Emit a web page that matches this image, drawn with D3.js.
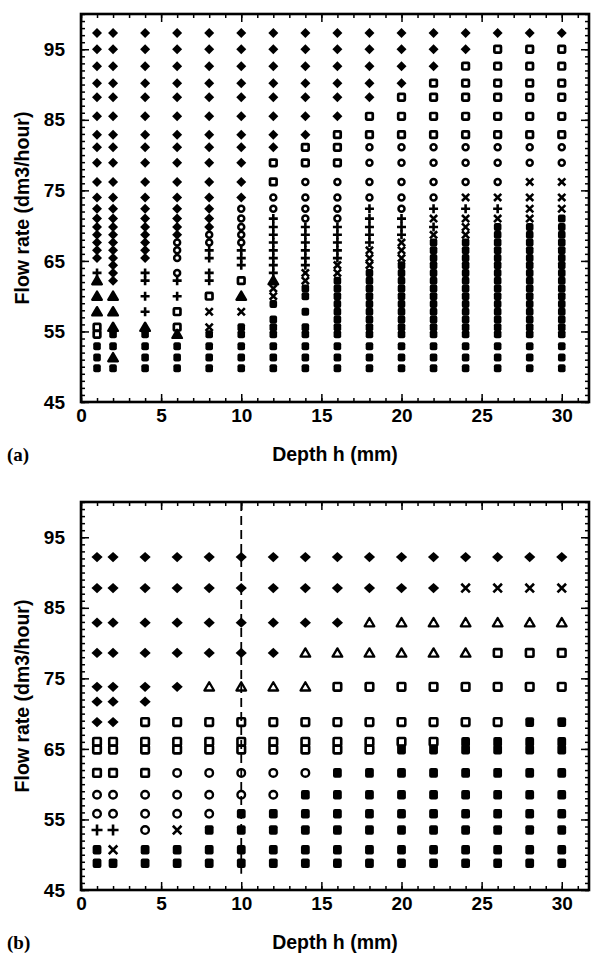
<!DOCTYPE html>
<html>
<head>
<meta charset="utf-8">
<script src="https://cdn.jsdelivr.net/npm/d3@7"></script>
<style>
  html, body { margin: 0; padding: 0; background: #fff; }
  svg { display: block; }
  .tick text { font-family: "Liberation Sans", Arial, Helvetica, sans-serif; font-weight: bold; font-size: 19px; fill: #000; }
  .title { font-family: "Liberation Sans", Arial, Helvetica, sans-serif; font-weight: bold; font-size: 19.5px; fill: #000; }
  .plabel { font-family: "Liberation Serif", "Times New Roman", serif; font-weight: bold; font-size: 19px; fill: #000; }
</style>
</head>
<body>
<script>
// Depth of each measurement column (mm)
const depths = [1, 2, 4, 6, 8, 10, 12, 14, 16, 18, 20, 22, 24, 26, 28, 30];

// Tick values
const xTicks = [0, 5, 10, 15, 20, 25, 30];
const yTicks = [45, 55, 65, 75, 85, 95];

// Panel (a): flow rates measured (dm3/hour), top to bottom
const flowA = [97.3, 95.0, 92.6, 90.2, 88.2, 85.5, 82.9, 81.1, 78.9, 76.2, 74.0,
               72.4, 71.0, 69.8, 68.7, 67.6, 66.5, 65.4, 64.4, 63.3, 62.2, 61.1,
               60.0, 58.9, 57.8, 56.7, 55.6, 54.6, 52.9, 51.3, 49.8];

// Panel (a): observed regime per depth column, one code per flow rate
// D diamond, S open square, C circle, P plus, X cross, T triangle, F filled square, . none
const regimeA = [
  "DDDDDDDDDDD" + "DDDDDDD.PT.T.T.SSFFF",
  "DDDDDDDDDDD" + "DDDDDDDDDD.T.T.TFFTF",
  "DDDDDDDDDDD" + "DDDDDDD.PP.P.P.TFFFF",
  "DDDDDDDDDDD" + "DDDDCCC.CP.P.S.STFFF",
  "DDDDDDDDDDD" + "DDDCCPP.PP.S.X.XFFFF",
  "DDDDDDDDDDD" + "CCCCCPPP.S.T.X.FFFFF",
  "DDDDDDDDSSC" + "CPPPPPPPPTXXF.FFFFFF",
  "DDDDDDDSSCC" + "CCPPPPPPXXFF.F.FFFFF",
  "DDDDDDSSSCC" + "CCPPPPPXXFFFFFFFFFFF",
  "DDDDDSSCCCC" + "PPPPPXXXFFFFFFFFFFFF",
  "DDDDSSSCCCC" + "CPPPXXXFFFFFFFFFFFFF",
  "DDDSSSSCCCC" + "PXPXFFFFFFFFFFFFFFFF",
  "DDSSSSSCCCX" + "PXXXFFFFFFFFFFFFFFFF",
  "DSSSSSSCCCX" + "PXFFFFFFFFFFFFFFFFFF",
  "DSSSSSSCCXX" + "XXFFFFFFFFFFFFFFFFFF",
  "DSSSSSSCCXX" + "XFFFFFFFFFFFFFFFFFFF"
];

// Panel (b): flow rates measured (dm3/hour), top to bottom
const flowB = [92.2, 87.8, 82.9, 78.6, 73.8, 71.7, 68.8, 66.0, 64.9, 61.6, 58.5, 55.8, 53.5, 50.7, 48.8];

// Panel (b): observed regime per depth column
const regimeB = [
  "DDDDDDDSSSCCPFF",
  "DDDDDDDSSSCCPXF",
  "DDDDDDSSSSCCCFF",
  "DDDDD.SSSCCCXFF",
  "DDDDT.SSSCCCFFF",
  "DDDDT.SSSCCFFFF",
  "DDDDT.SSSCCFFFF",
  "DDDTT.SSSCFFFFF",
  "DDDTS.SSSFFFFFF",
  "DDTTS.SSSFFFFFF",
  "DDTTS.SSFFFFFFF",
  "DDTTS.SSFFFFFFF",
  "DXTTS.SFFFFFFFF",
  "DXTSS.SFFFFFFFF",
  "DXTSS.FFFFFFFFF",
  "DXTSS.FFFFFFFFF"
];

// Depth marked by the dashed line in panel (b)
const markDepthB = 10;

const W = 593, H = 959;
const svg = d3.select("body").append("svg").attr("width", W).attr("height", H);

const x = d3.scaleLinear().domain([0, 31.7]).range([81, 589]);

// marker glyph sizes per panel
const glyphA = { dw: 5, dh: 5, sq: 3.3, sqw: 2.7, cr: 3.0, cw: 2.5, tr: 4.6, tfill: true, pl: 4.5, pw: 2.6, xs: 3.6, xw: 2.6, fw: 3.8, fh: 4.0 };
const glyphB = { dw: 5.6, dh: 5.1, sq: 3.8, sqw: 2.6, cr: 3.8, cw: 2.4, tr: 4.6, tfill: false, pl: 5.5, pw: 2.6, xs: 4.3, xw: 2.6, fw: 4.4, fh: 4.8 };

function drawGlyph(g, code, cx, cy, s) {
  const t = `translate(${cx},${cy})`;
  switch (code) {
    case "D":
      g.append("path").attr("transform", t)
        .attr("d", `M0,${-s.dh}L${s.dw},0L0,${s.dh}L${-s.dw},0Z`).attr("fill", "#000");
      break;
    case "S":
      g.append("rect").attr("x", cx - s.sq).attr("y", cy - s.sq)
        .attr("width", 2 * s.sq).attr("height", 2 * s.sq).attr("rx", 0.8)
        .attr("fill", "none").attr("stroke", "#000").attr("stroke-width", s.sqw);
      break;
    case "C":
      g.append("circle").attr("cx", cx).attr("cy", cy).attr("r", s.cr)
        .attr("fill", "none").attr("stroke", "#000").attr("stroke-width", s.cw);
      break;
    case "T": {
      const r = s.tr;
      g.append("path").attr("transform", t)
        .attr("d", `M0,${-r}L${r * 1.05},${r * 0.8}L${-r * 1.05},${r * 0.8}Z`)
        .attr("fill", s.tfill ? "#000" : "none").attr("stroke", "#000")
        .attr("stroke-width", 2.3).attr("stroke-linejoin", "round");
      break;
    }
    case "P":
      g.append("path").attr("transform", t)
        .attr("d", `M${-s.pl},0H${s.pl}M0,${-s.pl}V${s.pl}`)
        .attr("stroke", "#000").attr("stroke-width", s.pw).attr("fill", "none");
      break;
    case "X":
      g.append("path").attr("transform", t)
        .attr("d", `M${-s.xs},${-s.xs}L${s.xs},${s.xs}M${-s.xs},${s.xs}L${s.xs},${-s.xs}`)
        .attr("stroke", "#000").attr("stroke-width", s.xw).attr("fill", "none");
      break;
    case "F":
      g.append("rect").attr("x", cx - s.fw).attr("y", cy - s.fh)
        .attr("width", 2 * s.fw).attr("height", 2 * s.fh).attr("rx", 2)
        .attr("fill", "#000");
      break;
  }
}

function drawPanel(cfg) {
  const y = d3.scaleLinear().domain([45, 100]).range([cfg.bottom, cfg.top]);
  const g = svg.append("g");
  const [x0, x1] = x.range();

  // optional dashed reference line
  if (cfg.dashAt != null) {
    g.append("line")
      .attr("x1", x(cfg.dashAt)).attr("x2", x(cfg.dashAt))
      .attr("y1", cfg.top).attr("y2", y(47.3))
      .attr("stroke", "#000").attr("stroke-width", 1.8)
      .attr("stroke-dasharray", "9,5");
  }

  // markers
  const marks = g.append("g");
  depths.forEach((d, i) => {
    const codes = cfg.regime[i];
    cfg.flow.forEach((q, j) => {
      const c = codes[j];
      if (c && c !== ".") drawGlyph(marks, c, x(d), y(q), cfg.glyph);
    });
  });

  // axes: minor and major ticks on all four sides, pointing inward
  const styleAxis = sel => {
    sel.select(".domain").remove();
    sel.selectAll(".tick line").attr("stroke", "#000").attr("stroke-width", 1.5);
  };
  const minorX = d3.range(0, 32, 1);
  const minorY = d3.range(45, 101, 1);

  g.append("g").attr("transform", `translate(0,${cfg.bottom})`)
    .call(d3.axisBottom(x).tickValues(minorX).tickSize(-4).tickFormat("")).call(styleAxis);
  g.append("g").attr("transform", `translate(0,${cfg.bottom})`)
    .call(d3.axisBottom(x).tickValues(xTicks).tickSize(-8).tickPadding(7).tickFormat(d3.format("d"))).call(styleAxis);
  g.append("g").attr("transform", `translate(0,${cfg.top})`)
    .call(d3.axisTop(x).tickValues(minorX).tickSize(-4).tickFormat("")).call(styleAxis);
  g.append("g").attr("transform", `translate(0,${cfg.top})`)
    .call(d3.axisTop(x).tickValues(xTicks).tickSize(-8).tickFormat("")).call(styleAxis);

  g.append("g").attr("transform", `translate(${x0},0)`)
    .call(d3.axisLeft(y).tickValues(minorY).tickSize(-4).tickFormat("")).call(styleAxis);
  g.append("g").attr("transform", `translate(${x0},0)`)
    .call(d3.axisLeft(y).tickValues(yTicks).tickSize(-8).tickPadding(16).tickFormat(d3.format("d"))).call(styleAxis);
  g.append("g").attr("transform", `translate(${x1},0)`)
    .call(d3.axisRight(y).tickValues(minorY).tickSize(-4).tickFormat("")).call(styleAxis);
  g.append("g").attr("transform", `translate(${x1},0)`)
    .call(d3.axisRight(y).tickValues(yTicks).tickSize(-8).tickFormat("")).call(styleAxis);

  // frame
  g.append("rect").attr("x", x0).attr("y", cfg.top)
    .attr("width", x1 - x0).attr("height", cfg.bottom - cfg.top)
    .attr("fill", "none").attr("stroke", "#000").attr("stroke-width", 2.6);

  // titles
  g.append("text").attr("class", "title")
    .attr("transform", `translate(29,${(cfg.top + cfg.bottom) / 2}) rotate(-90)`)
    .attr("text-anchor", "middle").text("Flow rate (dm3/hour)");
  g.append("text").attr("class", "title")
    .attr("x", (x0 + x1) / 2).attr("y", cfg.bottom + 59)
    .attr("text-anchor", "middle").text("Depth h (mm)");
  g.append("text").attr("class", "plabel")
    .attr("x", 7).attr("y", cfg.bottom + 59).text(cfg.label);
}

drawPanel({ top: 14, bottom: 402, flow: flowA, regime: regimeA, glyph: glyphA, label: "(a)", dashAt: null });
drawPanel({ top: 502, bottom: 890, flow: flowB, regime: regimeB, glyph: glyphB, label: "(b)", dashAt: markDepthB });
</script>
</body>
</html>
